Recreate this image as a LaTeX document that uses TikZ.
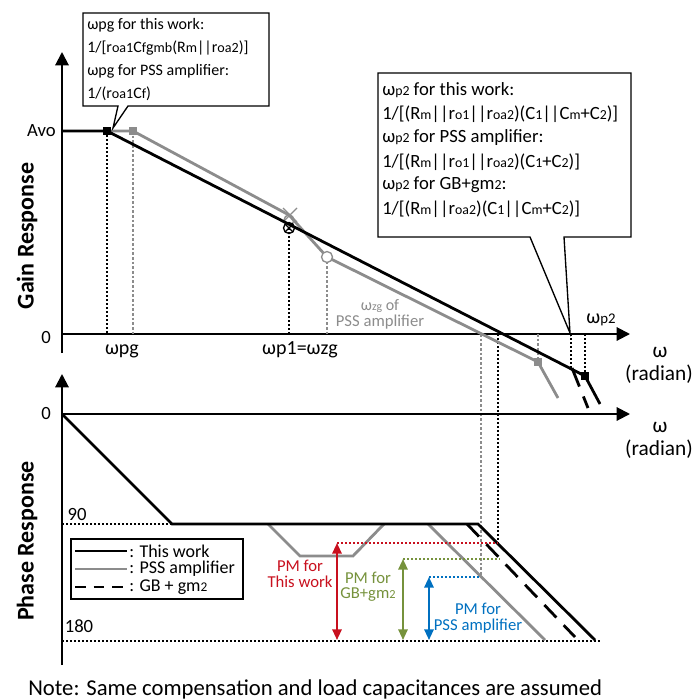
\documentclass[tikz,border=0pt]{standalone}
\usepackage{fontspec}
\usepackage{graphicx}
\setmainfont{Carlito}
\usetikzlibrary{arrows.meta}
\definecolor{pmred}{RGB}{200,16,30}
\definecolor{pmgreen}{RGB}{118,146,60}
\definecolor{pmblue}{RGB}{0,112,192}
\definecolor{pssgray}{RGB}{140,140,140}
\newcommand\lo[1]{\scalebox{0.74}{#1}}
\newcommand\lob[1]{\scalebox{0.88}{#1}}
\tikzset{
  axis/.style = {line width=1.5pt, -{Triangle[width=10pt,length=10pt]}},
  work/.style = {line width=2.1pt, black},
  pss/.style = {line width=2.1pt, pssgray},
  gbline/.style = {line width=2.1pt, black, dash pattern=on 13pt off 8pt},
  guide/.style = {line width=1.4pt, black, dash pattern=on 1.5pt off 1.5pt},
  gguide/.style = {line width=1pt, pssgray, dash pattern=on 2pt off 1.5pt},
  lbl/.style = {font=\fontsize{14}{16}\selectfont, inner sep=0pt},
  ylbl/.style = {font=\fontsize{18}{20}\selectfont\bfseries, rotate=90, inner sep=0pt},
  callout/.style = {draw, line width=1pt, fill=white},
  pmarrow/.style = {line width=1.5pt, {Triangle[width=7pt,length=8pt]}-{Triangle[width=7pt,length=8pt]}},
  sq/.style = {fill, minimum size=5.5pt, inner sep=0pt},
}
\begin{document}
\begin{tikzpicture}[x=0.75pt, y=-0.75pt]
  \useasboundingbox (0,0) rectangle (695,699);
  % gain axes
  \draw[axis] (62,353) -- (62,52);
  \draw[axis] (62,334) -- (630,334);
  \node[lbl, anchor=east] (avo) at (56,131) {Avo};
  \node[lbl] (gz) at (46,338) {0};
  \node[ylbl] (glbl) at (27,236) {Gain Response};
  \node[lbl, font=\fontsize{16}{18}\selectfont] (wtop) at (660,352) {ω};
  \node[lbl, font=\fontsize{16}{18}\selectfont] (radtop) at (659,374) {(radian)};
  % guide lines of the gain plot
  \draw[guide] (107,131) -- (107,334);
  \draw[gguide] (133,131) -- (133,334);
  \draw[guide] (289,228) -- (289,334);
  \draw[gguide] (327,257) -- (327,334);
  \draw[gguide] (538,334) -- (538,362);
  \draw[guide] (571,334) -- (571,368);
  \draw[guide] (585,334) -- (585,376);
  \draw[gguide] (481,334) -- (481,577);
  \draw[guide] (498,334) -- (498,543);
  % PSS amplifier (gain)
  \draw[pss] (107,131) -- (133,131) -- (289,215) -- (327,257) -- (538,362) -- (558,398);
  \node[sq, pssgray] (gsq1) at (133,131) {};
  \node[sq, pssgray] (gsq2) at (538,362) {};
  \draw[pssgray, line width=1pt] (289,220) circle (5);
  \draw[pssgray, line width=1pt] (283,208) -- (297,222) (283,222) -- (297,208);
  \draw[pssgray, line width=1pt, fill=white] (327,257) circle (5.5);
  % this work (gain)
  \draw[work] (62,131) -- (107,131) -- (585,376) -- (600,404);
  \draw[gbline, dash pattern=on 15pt off 8pt on 10pt off 10pt] (572,368) -- (588,408);
  \node[sq] (bsq1) at (107,131) {};
  \node[sq] (bsq2) at (585,376) {};
  \draw[line width=1pt] (289,228) circle (5.5);
  \draw[line width=1pt] (285,224) -- (293,232) (285,232) -- (293,224);
  % frequency labels
  \node[lbl, font=\fontsize{15}{17}\selectfont] (wpg) at (122,351) {ωpg};
  \node[lbl, font=\fontsize{15}{17}\selectfont] (wp1) at (300,350) {ωp1=ωzg};
  \node[lbl, font=\fontsize{15}{17}\selectfont] (wp2) at (601,320) {ω\lo{p2}};
  \node[lbl, pssgray, font=\fontsize{12}{12}\selectfont] (wzg) at (380,306) {ω\lo{zg} of};
  \node[lbl, pssgray, font=\fontsize{12.5}{12}\selectfont] (wzgb) at (380,322) {PSS amplifier};
  % callout of wpg
  \draw[callout] (83,13) -- (269,13) -- (269,106) -- (128,106) -- (113,128)
    -- (118,106) -- (83,106) -- cycle;
  \begin{scope}[lbl/.append style={font=\fontsize{12}{14}\selectfont}]
  \node[lbl, anchor=west] (c1a) at (87,25) {ωpg for this work:};
  \node[lbl, anchor=west] (c1b) at (87,48) {1/[r\lob{oa1}C\lob{f}g\lob{mb}(R\lob{m}||r\lob{oa2})]};
  \node[lbl, anchor=west] (c1c) at (87,71) {ωpg for PSS amplifier:};
  \node[lbl, anchor=west] (c1d) at (87,94) {1/(r\lob{oa1}C\lob{f})};
  \end{scope}
  % callout of wp2
  \draw[callout] (378,73) -- (631,73) -- (631,237) -- (564,237) -- (570,333)
    -- (530,237) -- (378,237) -- cycle;
  \node[lbl, anchor=west] (c2a) at (382,90) {ω\lo{p2} for this work:};
  \node[lbl, anchor=west] (c2b) at (382,114) {1/[(R\lo{m}||r\lo{o1}||r\lo{oa2})(C\lo{1}||C\lo{m}+C\lo{2})]};
  \node[lbl, anchor=west] (c2c) at (382,138) {ω\lo{p2} for PSS amplifier:};
  \node[lbl, anchor=west] (c2d) at (382,162) {1/[(R\lo{m}||r\lo{o1}||r\lo{oa2})(C\lo{1}+C\lo{2})]};
  \node[lbl, anchor=west] (c2e) at (382,185) {ω\lo{p2} for GB+gm\lo{2}:};
  \node[lbl, anchor=west] (c2f) at (382,209) {1/[(R\lo{m}||r\lo{oa2})(C\lo{1}||C\lo{m}+C\lo{2})]};
  % phase axes
  \draw[axis] (62,665) -- (62,374);
  \draw[axis] (62,414) -- (630,414);
  \node[lbl] (pz) at (46,414) {0};
  \node[ylbl] (plbl) at (27,541) {Phase Response};
  \node[lbl, font=\fontsize{16}{18}\selectfont] (wbot) at (660,427) {ω};
  \node[lbl, font=\fontsize{16}{18}\selectfont] (radbot) at (659,449) {(radian)};
  \draw[guide] (62,524) -- (172,524);
  \draw[guide] (62,641) -- (600,641);
  \node[lbl] (p90) at (77,514) {90};
  \node[lbl] (p180) at (79,626) {180};
  % phase curves
  \draw[pss] (268,524) -- (300,556) -- (353,556) -- (384,524);
  \draw[pss] (428,524) -- (545,640);
  \draw[gbline] (467,524) -- (575,637);
  \draw[work] (62,414) -- (172,524) -- (478,524) -- (595,640);
  % phase margins
  \draw[pmred, line width=1pt, dash pattern=on 1.5pt off 1.5pt] (337,543) -- (498,543);
  \draw[pmgreen, line width=1pt, dash pattern=on 1.5pt off 1.5pt] (403,559) -- (500,559);
  \draw[pmblue, line width=1pt, dash pattern=on 1.5pt off 1.5pt] (429,577) -- (481,577);
  \draw[pmarrow, pmred] (337,543) -- (337,640);
  \draw[pmarrow, pmgreen] (403,559) -- (403,640);
  \draw[pmarrow, pmblue] (429,577) -- (429,640);
  \begin{scope}[lbl/.append style={font=\fontsize{12.5}{11.5}\selectfont}]
  \node[lbl, pmred, align=center] (pmw) at (300,574) {PM for\\This work};
  \node[lbl, pmgreen, align=center] (pmg) at (368,587) {PM for\\GB+gm\lo{2}};
  \node[lbl, pmblue, align=center] (pmp) at (478,618) {PM for\\PSS amplifier};
  \end{scope}
  % legend
  \draw[line width=1pt, fill=white] (71,539) rectangle (243,599);
  \draw[work, line width=1.5pt] (75,551) -- (127,551);
  \draw[pss, line width=1.5pt] (75,569) -- (127,569);
  \draw[black, line width=1.5pt, dash pattern=on 8pt off 6pt] (75,587) -- (127,587);
  \begin{scope}[lbl/.append style={font=\fontsize{13.5}{15}\selectfont}]
  \node[lbl, anchor=west] (lg1) at (129,551) {: This work};
  \node[lbl, anchor=west] (lg2) at (129,569) {: PSS amplifier};
  \node[lbl, anchor=west] (lg3) at (129,587) {: GB + gm\lo{2}};
  \end{scope}
  % note
  \node[lbl, anchor=base west, font=\fontsize{17}{19}\selectfont] (note) at (28,695)
    {Note: Same compensation and load capacitances are assumed};
\end{tikzpicture}
\end{document}
